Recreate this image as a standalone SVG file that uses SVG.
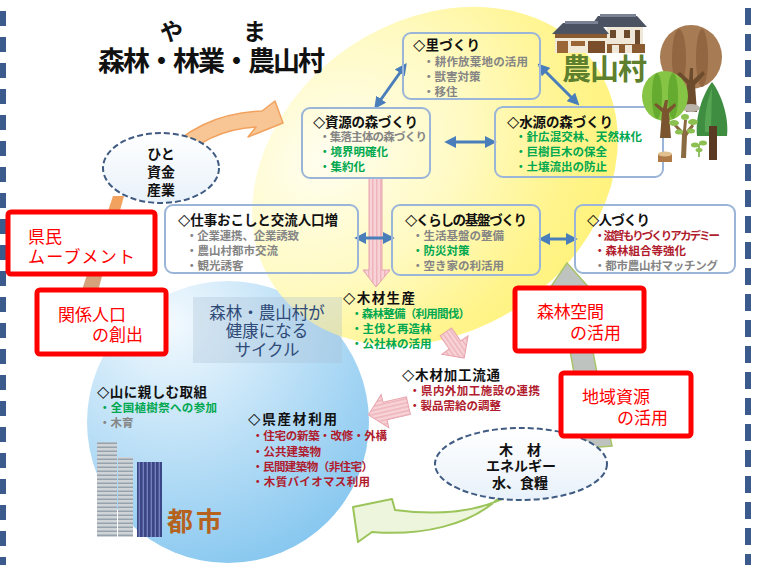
<svg xmlns="http://www.w3.org/2000/svg" width="765" height="565" viewBox="0 0 765 565">
<defs>
  <radialGradient id="gYellow" cx="0.3" cy="0.25" r="0.85">
    <stop offset="0" stop-color="#fffef0"/>
    <stop offset="0.45" stop-color="#fffac2"/>
    <stop offset="0.8" stop-color="#fff48c"/>
    <stop offset="1" stop-color="#fff27a"/>
  </radialGradient>
  <radialGradient id="gBlue" cx="0.3" cy="0.15" r="1">
    <stop offset="0" stop-color="#f2f9fe"/>
    <stop offset="1" stop-color="#7cc2ee"/>
  </radialGradient>
  <linearGradient id="gOval" x1="0" y1="0" x2="0" y2="1">
    <stop offset="0" stop-color="#ffffff"/>
    <stop offset="1" stop-color="#e8f1fa"/>
  </linearGradient>
  <linearGradient id="gTail" x1="0" y1="0" x2="0" y2="1">
    <stop offset="0" stop-color="#f4a25c"/>
    <stop offset="1" stop-color="#cfa283"/>
  </linearGradient>
  <pattern id="pinkStripe" width="4" height="4" patternUnits="userSpaceOnUse">
    <rect width="4" height="4" fill="#f7d3d7"/>
    <rect width="1.5" height="4" fill="#eeb3bb"/>
  </pattern>
  <pattern id="winGray" width="4" height="4" patternUnits="userSpaceOnUse">
    <rect width="4" height="4" fill="#cfd4d9"/>
    <rect y="2.5" width="4" height="1.5" fill="#98a2ad"/>
  </pattern>
  <pattern id="winBlue" width="4" height="4" patternUnits="userSpaceOnUse">
    <rect width="4" height="4" fill="#3a4685"/>
    <rect x="2.6" width="1.4" height="4" fill="#7380bb"/>
  </pattern>
  <marker id="ah" viewBox="0 0 10 10" refX="6" refY="5" markerWidth="4" markerHeight="4" orient="auto-start-reverse" markerUnits="strokeWidth">
    <path d="M0,0 L10,5 L0,10 Z" fill="#4a7ebb"/>
  </marker>
  <style>
    .jp { font-family: "Noto Sans CJK JP", "Noto Sans CJK SC", sans-serif; }
    .t { font-family: "Noto Sans CJK JP", sans-serif; font-weight: bold; font-size: 13.5px; fill: #111; }
    .d { font-family: "DejaVu Sans", sans-serif; font-size: 16px; font-weight: bold; fill: #111; }
    .i { font-family: "Noto Sans CJK JP", sans-serif; font-weight: bold; font-size: 11.5px; }
    .gy { fill: #858585; }
    .gn { fill: #00a84f; }
    .rd { fill: #b01c2e; }
    .box { fill: none; stroke: #9bb5d8; stroke-width: 2; }
    .redbox { fill: #fff; stroke: #ff0000; stroke-width: 5; }
    .redtxt { font-family: "Noto Sans CJK JP", sans-serif; font-size: 17px; fill: #ff0000; }
    .oval { fill: url(#gOval); stroke: #3f5b82; stroke-width: 2; stroke-dasharray: 6 3; }
    .ovtxt { font-family: "Noto Sans CJK JP", sans-serif; font-weight: bold; font-size: 14px; fill: #111; text-anchor: middle; }
    .dbl { stroke: #4a7ebb; stroke-width: 3; fill: none; marker-start: url(#ah); marker-end: url(#ah); }
    .pink { fill: url(#pinkStripe); stroke: #e8a3ad; stroke-width: 1; }
  </style>
</defs>

<rect width="765" height="565" fill="#fff"/>

<!-- page side rules -->
<line x1="3" y1="11" x2="3" y2="565" stroke="#3a5b8c" stroke-width="6" stroke-dasharray="15 11"/>
<line x1="748" y1="-18" x2="748" y2="565" stroke="#3a5b8c" stroke-width="6" stroke-dasharray="17 9"/>

<!-- city sphere and forest sphere -->
<circle id="city-sphere" cx="228" cy="422" r="141" fill="url(#gBlue)"/>
<ellipse id="forest-sphere" cx="435" cy="176" rx="195" ry="155" transform="rotate(-35 435 176)" fill="url(#gYellow)"/>

<!-- cycle caption -->
<g id="cycle-caption">
  <rect x="193" y="297" width="149" height="66" fill="#a9bdd2" fill-opacity="0.32"/>
  <text class="jp" x="267" y="319" font-size="16.5" fill="#2e4a78" text-anchor="middle">森林・農山村が</text>
  <text class="jp" x="267" y="337" font-size="16.5" fill="#2e4a78" text-anchor="middle">健康になる</text>
  <text class="jp" x="267" y="356" font-size="16.5" fill="#2e4a78" text-anchor="middle">サイクル</text>
</g>

<!-- connectors -->
<g id="connectors">
  <!-- people / funds flow (orange) -->
  <path d="M78 302 L95 302 L124 196 L113 196 Z" fill="url(#gTail)"/>
  <path d="M160 160 C182 130 218 113 262 111 L275 101 L283 123 L248 137 L256 127 C222 129 196 142 176 165 Z" fill="#f8c594" stroke="#f2a25e" stroke-width="1.5" stroke-linejoin="round"/>

  <!-- timber flow (pink) -->
  <path class="pink" d="M369 178 L382 178 L382 270 L390 270 L376 287 L363 270 L369 270 Z"/>
  <path class="pink" transform="translate(455 345) rotate(-35)" d="M-7 -16 L7 -16 L7 0 L16 0 L0 16 L-16 0 L-7 0 Z"/>
  <path class="pink" transform="translate(385 411) rotate(77)" d="M-9 -24 L9 -24 L9 0 L17 0 L0 17 L-17 0 L-9 0 Z"/>

  <!-- resources upward (gray) -->
  <path d="M567 263 L592 291 L583 291 C588 330 598 380 612 446 L586 448 C578 390 567 335 559 291 L548 291 Z" fill="#bfc3bf" stroke="#a7c468" stroke-width="1.5"/>

  <!-- resources to city (green) -->
  <path d="M512 494 C480 512 440 516 395 510 L392 499 L353 507 L358 542 L372 532 C420 536 470 526 500 497 Z" fill="#eef5dd" stroke="#9bc45a" stroke-width="2" stroke-linejoin="round"/>

  <!-- links between initiatives -->
  <line class="dbl" x1="377" y1="105" x2="404" y2="67"/>
  <line class="dbl" x1="541" y1="67" x2="576" y2="102"/>
  <line class="dbl" x1="449" y1="142" x2="492" y2="142"/>
  <line class="dbl" x1="359" y1="238" x2="390" y2="238"/>
  <line class="dbl" x1="543" y1="239" x2="573" y2="239"/>
</g>

<!-- people / funds / industry -->
<g id="node-hito">
  <ellipse class="oval" cx="161" cy="168" rx="58" ry="35"/>
  <text class="ovtxt" x="161" y="159">ひと</text>
  <text class="ovtxt" x="161" y="177">資金</text>
  <text class="ovtxt" x="161" y="195">産業</text>
</g>

<!-- timber / energy / water, food -->
<g id="node-shigen">
  <ellipse class="oval" cx="521" cy="464" rx="86" ry="36"/>
  <text class="ovtxt" x="520" y="455">木　材</text>
  <text class="ovtxt" x="521" y="471">エネルギー</text>
  <text class="ovtxt" x="520" y="488">水、食糧</text>
</g>

<g id="node-sato">
  <rect class="box" x="403" y="33" width="137" height="66" rx="8"/>
  <text class="t" x="413" y="50" textLength="67"><tspan class="d">◇</tspan>里づくり</text>
  <text class="i gy" x="423" y="66" textLength="105">・耕作放棄地の活用</text>
  <text class="i gy" x="423" y="81">・獣害対策</text>
  <text class="i gy" x="423" y="96">・移住</text>
</g>

<g id="node-shigen-mori">
  <rect class="box" x="302" y="108" width="128" height="70" rx="8"/>
  <text class="t" x="313" y="127" textLength="105"><tspan class="d">◇</tspan>資源の森づくり</text>
  <text class="i gy" x="319" y="141" textLength="108">・集落主体の森づくり</text>
  <text class="i gn" x="319" y="156">・境界明確化</text>
  <text class="i gn" x="319" y="171">・集約化</text>
</g>

<g id="node-suigen-mori">
  <rect class="box" x="495" y="107" width="168" height="70" rx="8"/>
  <text class="t" x="507" y="127" textLength="106"><tspan class="d">◇</tspan>水源の森づくり</text>
  <text class="i gn" x="515" y="141" textLength="127">・針広混交林、天然林化</text>
  <text class="i gn" x="515" y="156">・巨樹巨木の保全</text>
  <text class="i gn" x="515" y="171">・土壌流出の防止</text>
</g>

<g id="node-shigoto">
  <rect class="box" x="165" y="205" width="193" height="68" rx="8"/>
  <text class="t" x="178" y="225" textLength="160"><tspan class="d">◇</tspan>仕事おこしと交流人口増</text>
  <text class="i gy" x="186" y="240" textLength="113">・企業連携、企業誘致</text>
  <text class="i gy" x="186" y="255">・農山村都市交流</text>
  <text class="i gy" x="186" y="270">・観光誘客</text>
</g>

<g id="node-kurashi">
  <rect class="box" x="392" y="205" width="148" height="70" rx="8"/>
  <text class="t" x="405" y="225" textLength="122"><tspan class="d">◇</tspan>くらしの基盤づくり</text>
  <text class="i gy" x="412" y="240">・生活基盤の整備</text>
  <text class="i gn" x="412" y="255">・防災対策</text>
  <text class="i gy" x="412" y="270">・空き家の利活用</text>
</g>

<g id="node-hito-zukuri">
  <rect class="box" x="575" y="205" width="160" height="68" rx="8"/>
  <text class="t" x="587" y="225" textLength="63"><tspan class="d">◇</tspan>人づくり</text>
  <text class="i rd" x="594" y="240" textLength="126">・滋賀もりづくりアカデミー</text>
  <text class="i rd" x="594" y="255">・森林組合等強化</text>
  <text class="i gy" x="594" y="270" textLength="124">・都市農山村マッチング</text>
</g>

<g id="node-mokuzai-seisan">
  <text class="t" x="343" y="303" textLength="72"><tspan class="d">◇</tspan>木材生産</text>
  <text class="i gn" x="351" y="318" textLength="119">・森林整備（利用間伐）</text>
  <text class="i gn" x="351" y="333">・主伐と再造林</text>
  <text class="i gn" x="351" y="348">・公社林の活用</text>
</g>

<g id="node-kakou">
  <text class="t" x="402" y="380" textLength="98"><tspan class="d">◇</tspan>木材加工流通</text>
  <text class="i rd" x="409" y="395" textLength="131">・県内外加工施設の連携</text>
  <text class="i rd" x="409" y="410">・製品需給の調整</text>
</g>

<g id="node-yama">
  <text class="t" x="97" y="397" textLength="110"><tspan class="d">◇</tspan>山に親しむ取組</text>
  <text class="i gn" x="99" y="412" textLength="118">・全国植樹祭への参加</text>
  <text class="i gy" x="99" y="427">・木育</text>
</g>

<g id="node-kensanzai">
  <text class="t" x="248" y="424" textLength="89"><tspan class="d">◇</tspan>県産材利用</text>
  <text class="i rd" x="252" y="440" textLength="135">・住宅の新築・改修・外構</text>
  <text class="i rd" x="252" y="456">・公共建築物</text>
  <text class="i rd" x="252" y="471" textLength="121">・民間建築物（非住宅）</text>
  <text class="i rd" x="252" y="486" textLength="118">・木質バイオマス利用</text>
</g>

<!-- outcome labels -->
<g id="label-kenmin">
  <rect class="redbox" x="8" y="212" width="147" height="62" rx="3"/>
  <text class="redtxt" x="28" y="243">県民</text>
  <text class="redtxt" x="28" y="263" textLength="107">ムーブメント</text>
</g>
<g id="label-kankei">
  <rect class="redbox" x="37" y="290" width="129" height="64" rx="3"/>
  <text class="redtxt" x="58" y="321" textLength="68">関係人口</text>
  <text class="redtxt" x="92" y="341" textLength="51">の創出</text>
</g>
<g id="label-shinrin-kukan">
  <rect class="redbox" x="515" y="288" width="129" height="63" rx="3"/>
  <text class="redtxt" x="537" y="318" textLength="67">森林空間</text>
  <text class="redtxt" x="570" y="339" textLength="51">の活用</text>
</g>
<g id="label-chiiki">
  <rect class="redbox" x="561" y="373" width="130" height="63" rx="3"/>
  <text class="redtxt" x="582" y="403" textLength="68">地域資源</text>
  <text class="redtxt" x="617" y="424" textLength="51">の活用</text>
</g>

<!-- city buildings -->
<g id="city">
  <rect x="97" y="442" width="20" height="95" fill="url(#winGray)"/>
  <rect x="118" y="457" width="15" height="80" fill="url(#winGray)"/>
  <rect x="137" y="462" width="25" height="75" fill="url(#winBlue)"/>
  <text class="jp" x="167" y="531" font-size="26" font-weight="bold" fill="#b5621e" textLength="55">都市</text>
</g>

<!-- village house and trees -->
<g id="village">
  <rect x="607" y="26" width="36" height="21" fill="#efe8d8"/>
  <rect x="610" y="30" width="6" height="8" fill="#6b4a2c"/>
  <rect x="624" y="30" width="6" height="8" fill="#6b4a2c"/>
  <rect x="635" y="30" width="5" height="14" fill="#6b4a2c"/>
  <polygon points="598,16 637,16 647,27 590,27" fill="#4b5363"/>
  <rect x="600" y="14" width="36" height="3" fill="#7a8294"/>
  <rect x="555" y="34" width="52" height="19" fill="#f2ead8"/>
  <rect x="555" y="34" width="52" height="4" fill="#8a5a30"/>
  <rect x="557" y="41" width="11" height="12" fill="#9a6636"/>
  <rect x="571" y="41" width="14" height="5" fill="#9a6636"/>
  <rect x="588" y="41" width="17" height="12" fill="#7a4e2a"/>
  <polygon points="563,23 600,23 609,34 552,34" fill="#4b5363"/>
  <rect x="565" y="21" width="33" height="3" fill="#7a8294"/>
  <rect x="607" y="44" width="38" height="9" fill="#8a5a30"/>
  <rect x="612" y="45" width="7" height="8" fill="#efe8d8"/>
  <rect x="625" y="45" width="7" height="8" fill="#efe8d8"/>

  <text class="jp" x="562" y="80" font-size="29" font-weight="bold" fill="#5d7f2e" textLength="85">農山村</text>

  <!-- brown broadleaf -->
  <ellipse cx="691" cy="57" rx="31" ry="32" fill="#a77b53"/>
  <ellipse cx="679" cy="58" rx="7" ry="29" fill="#916641"/>
  <ellipse cx="702" cy="58" rx="6" ry="29" fill="#916641"/>
  <path d="M686 112 L687 84 L677 74 L680 72 L689 80 L690 68 L693 68 L693 80 L703 71 L705 74 L695 85 L697 112 Z" fill="#6d4c2e"/>
  <ellipse cx="691" cy="108" rx="9" ry="4" fill="#b9b2a8"/>
  <!-- green broadleaf -->
  <ellipse cx="665" cy="96" rx="23" ry="25" fill="#85c444"/>
  <ellipse cx="657" cy="96" rx="5" ry="23" fill="#65ab2f"/>
  <ellipse cx="673" cy="96" rx="5" ry="23" fill="#65ab2f"/>
  <path d="M660 138 L662 112 L654 105 L656 103 L663 108 L665 100 L668 100 L667 109 L675 103 L676 106 L669 113 L671 138 Z" fill="#7a5530"/>
  <!-- conifer -->
  <path d="M712 82 C702 95 695 118 697 136 L727 136 C729 118 722 95 712 82 Z" fill="#3e8d40"/>
  <path d="M712 88 C707 100 704 118 705 132 L711 132 Z" fill="#55a552"/>
  <rect x="709" y="126" width="8" height="34" fill="#5a3a22"/>
  <!-- young tree -->
  <path d="M681 158 L682 135 L674 126 L676 124 L683 131 L684 120 L687 120 L686 131 L692 124 L694 126 L687 136 L686 158 Z" fill="#8a6a40"/>
  <ellipse cx="674" cy="123" rx="5" ry="3" fill="#8cc152"/>
  <ellipse cx="693" cy="122" rx="5" ry="3" fill="#8cc152"/>
  <ellipse cx="685" cy="117" rx="4" ry="3" fill="#8cc152"/>
  <ellipse cx="679" cy="132" rx="4" ry="2.5" fill="#8cc152"/>
  <ellipse cx="691" cy="131" rx="4" ry="2.5" fill="#8cc152"/>
  <!-- sprout -->
  <path d="M699 157 L699 144" stroke="#6aa83a" stroke-width="1.5"/>
  <ellipse cx="695" cy="145" rx="4" ry="2.5" fill="#8cc152"/>
  <ellipse cx="703" cy="143" rx="4" ry="2.5" fill="#8cc152"/>
  <ellipse cx="699" cy="150" rx="3.5" ry="2" fill="#8cc152"/>
  <!-- stump -->
  <rect x="658" y="154" width="14" height="8" fill="#b07a48"/>
  <ellipse cx="665" cy="154" rx="7" ry="2.5" fill="#e0c08e"/>
</g>

<!-- heading -->
<g id="heading">
  <text class="jp" x="160" y="40" font-size="23" font-weight="bold" fill="#111">や</text>
  <text class="jp" x="243" y="40" font-size="23" font-weight="bold" fill="#111">ま</text>
  <text class="jp" x="98" y="71" font-size="27" font-weight="bold" fill="#111" textLength="227">森林・林業・農山村</text>
</g>
</svg>
